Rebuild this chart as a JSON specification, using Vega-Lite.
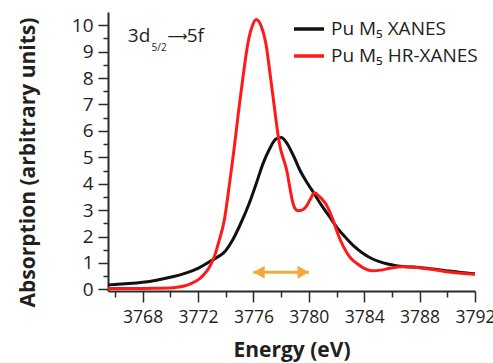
{
  "$schema": "https://vega.github.io/schema/vega-lite/v6.json",
  "autosize": {"type": "none"},
  "padding": {"left": 108, "top": 12, "right": 18, "bottom": 72},
  "width": 367,
  "height": 279,
  "background": "white",
  "config": {
    "view": {"stroke": null},
    "font": "Open Sans",
    "axis": {
      "grid": false,
      "labelOverlap": false,
      "labelFlush": false,
      "domainColor": "#2b2b2b",
      "domainWidth": 2,
      "tickColor": "#2b2b2b",
      "tickWidth": 1.5,
      "labelFont": "Open Sans",
      "labelFontSize": 19,
      "labelColor": "#231f20",
      "titleFont": "Open Sans",
      "titleFontSize": 21,
      "titleFontWeight": "bold",
      "titleColor": "#231f20"
    },
    "legend": {
      "labelFont": "Open Sans",
      "labelFontSize": 19,
      "labelColor": "#231f20"
    }
  },
  "layer": [
    {
      "data": {
        "values": [
          {"s": "Pu M₅ XANES", "e": 3765.5, "a": 0.17},
          {"s": "Pu M₅ XANES", "e": 3766, "a": 0.19},
          {"s": "Pu M₅ XANES", "e": 3767, "a": 0.22},
          {"s": "Pu M₅ XANES", "e": 3768, "a": 0.27},
          {"s": "Pu M₅ XANES", "e": 3769, "a": 0.35},
          {"s": "Pu M₅ XANES", "e": 3770, "a": 0.46},
          {"s": "Pu M₅ XANES", "e": 3771, "a": 0.6},
          {"s": "Pu M₅ XANES", "e": 3772, "a": 0.8},
          {"s": "Pu M₅ XANES", "e": 3773, "a": 1.1},
          {"s": "Pu M₅ XANES", "e": 3774, "a": 1.47},
          {"s": "Pu M₅ XANES", "e": 3774.5, "a": 1.87},
          {"s": "Pu M₅ XANES", "e": 3775, "a": 2.4},
          {"s": "Pu M₅ XANES", "e": 3775.7, "a": 3.26},
          {"s": "Pu M₅ XANES", "e": 3776.2, "a": 4.0},
          {"s": "Pu M₅ XANES", "e": 3776.7, "a": 4.77},
          {"s": "Pu M₅ XANES", "e": 3777.2, "a": 5.35},
          {"s": "Pu M₅ XANES", "e": 3777.6, "a": 5.68},
          {"s": "Pu M₅ XANES", "e": 3778, "a": 5.75},
          {"s": "Pu M₅ XANES", "e": 3778.4, "a": 5.55},
          {"s": "Pu M₅ XANES", "e": 3778.9, "a": 5.05},
          {"s": "Pu M₅ XANES", "e": 3779.35, "a": 4.52},
          {"s": "Pu M₅ XANES", "e": 3779.8, "a": 4.1},
          {"s": "Pu M₅ XANES", "e": 3780.3, "a": 3.7},
          {"s": "Pu M₅ XANES", "e": 3780.9, "a": 3.2},
          {"s": "Pu M₅ XANES", "e": 3781.5, "a": 2.75},
          {"s": "Pu M₅ XANES", "e": 3782.1, "a": 2.3},
          {"s": "Pu M₅ XANES", "e": 3782.7, "a": 1.94},
          {"s": "Pu M₅ XANES", "e": 3783.3, "a": 1.62},
          {"s": "Pu M₅ XANES", "e": 3783.9, "a": 1.37},
          {"s": "Pu M₅ XANES", "e": 3784.5, "a": 1.18},
          {"s": "Pu M₅ XANES", "e": 3785.1, "a": 1.05},
          {"s": "Pu M₅ XANES", "e": 3785.7, "a": 0.96},
          {"s": "Pu M₅ XANES", "e": 3786.3, "a": 0.9},
          {"s": "Pu M₅ XANES", "e": 3787, "a": 0.86},
          {"s": "Pu M₅ XANES", "e": 3788, "a": 0.83},
          {"s": "Pu M₅ XANES", "e": 3789, "a": 0.77},
          {"s": "Pu M₅ XANES", "e": 3789.9, "a": 0.71},
          {"s": "Pu M₅ XANES", "e": 3791, "a": 0.64},
          {"s": "Pu M₅ XANES", "e": 3792, "a": 0.59},
          {"s": "Pu M₅ HR-XANES", "e": 3765.5, "a": 0.03},
          {"s": "Pu M₅ HR-XANES", "e": 3767, "a": 0.03},
          {"s": "Pu M₅ HR-XANES", "e": 3769, "a": 0.04},
          {"s": "Pu M₅ HR-XANES", "e": 3770, "a": 0.05},
          {"s": "Pu M₅ HR-XANES", "e": 3770.5, "a": 0.08},
          {"s": "Pu M₅ HR-XANES", "e": 3771, "a": 0.13},
          {"s": "Pu M₅ HR-XANES", "e": 3771.5, "a": 0.22},
          {"s": "Pu M₅ HR-XANES", "e": 3772, "a": 0.36},
          {"s": "Pu M₅ HR-XANES", "e": 3772.4, "a": 0.55},
          {"s": "Pu M₅ HR-XANES", "e": 3772.8, "a": 0.82},
          {"s": "Pu M₅ HR-XANES", "e": 3773.2, "a": 1.27},
          {"s": "Pu M₅ HR-XANES", "e": 3773.5, "a": 1.8},
          {"s": "Pu M₅ HR-XANES", "e": 3773.9, "a": 2.63},
          {"s": "Pu M₅ HR-XANES", "e": 3774.3, "a": 4.1},
          {"s": "Pu M₅ HR-XANES", "e": 3774.6, "a": 5.3},
          {"s": "Pu M₅ HR-XANES", "e": 3774.94, "a": 6.79},
          {"s": "Pu M₅ HR-XANES", "e": 3775.25, "a": 8.05},
          {"s": "Pu M₅ HR-XANES", "e": 3775.6, "a": 9.31},
          {"s": "Pu M₅ HR-XANES", "e": 3775.9, "a": 9.94},
          {"s": "Pu M₅ HR-XANES", "e": 3776.2, "a": 10.22},
          {"s": "Pu M₅ HR-XANES", "e": 3776.58, "a": 9.94},
          {"s": "Pu M₅ HR-XANES", "e": 3776.9, "a": 9.31},
          {"s": "Pu M₅ HR-XANES", "e": 3777.23, "a": 8.05},
          {"s": "Pu M₅ HR-XANES", "e": 3777.54, "a": 6.79},
          {"s": "Pu M₅ HR-XANES", "e": 3777.85, "a": 5.6},
          {"s": "Pu M₅ HR-XANES", "e": 3778.4, "a": 4.52},
          {"s": "Pu M₅ HR-XANES", "e": 3778.9, "a": 3.19},
          {"s": "Pu M₅ HR-XANES", "e": 3779.2, "a": 2.98},
          {"s": "Pu M₅ HR-XANES", "e": 3779.5, "a": 3.0},
          {"s": "Pu M₅ HR-XANES", "e": 3779.8, "a": 3.13},
          {"s": "Pu M₅ HR-XANES", "e": 3780.1, "a": 3.4},
          {"s": "Pu M₅ HR-XANES", "e": 3780.4, "a": 3.66},
          {"s": "Pu M₅ HR-XANES", "e": 3780.8, "a": 3.5},
          {"s": "Pu M₅ HR-XANES", "e": 3781.2, "a": 3.26},
          {"s": "Pu M₅ HR-XANES", "e": 3781.75, "a": 2.63},
          {"s": "Pu M₅ HR-XANES", "e": 3782.1, "a": 2.1},
          {"s": "Pu M₅ HR-XANES", "e": 3782.5, "a": 1.62},
          {"s": "Pu M₅ HR-XANES", "e": 3783, "a": 1.2},
          {"s": "Pu M₅ HR-XANES", "e": 3783.45, "a": 0.99},
          {"s": "Pu M₅ HR-XANES", "e": 3784, "a": 0.8},
          {"s": "Pu M₅ HR-XANES", "e": 3784.6, "a": 0.71},
          {"s": "Pu M₅ HR-XANES", "e": 3785.2, "a": 0.73},
          {"s": "Pu M₅ HR-XANES", "e": 3785.85, "a": 0.8},
          {"s": "Pu M₅ HR-XANES", "e": 3786.8, "a": 0.86},
          {"s": "Pu M₅ HR-XANES", "e": 3787.5, "a": 0.85},
          {"s": "Pu M₅ HR-XANES", "e": 3788, "a": 0.82},
          {"s": "Pu M₅ HR-XANES", "e": 3789, "a": 0.75},
          {"s": "Pu M₅ HR-XANES", "e": 3789.95, "a": 0.67},
          {"s": "Pu M₅ HR-XANES", "e": 3791, "a": 0.61},
          {"s": "Pu M₅ HR-XANES", "e": 3792, "a": 0.57}
        ]
      },
      "mark": {"type": "line", "strokeWidth": 3, "interpolate": "monotone", "clip": true},
      "encoding": {
        "x": {
          "field": "e",
          "type": "quantitative",
          "scale": {"domain": [3765.5, 3792], "nice": false, "zero": false},
          "axis": {
            "orient": "bottom",
            "values": [3768, 3772, 3776, 3780, 3784, 3788, 3792],
            "format": "d",
            "tickSize": 11,
            "labelPadding": 6,
            "labelFontSize": 17.5,
            "labelDx": -6,
            "title": "Energy (eV)",
            "titlePadding": 14
          }
        },
        "y": {
          "field": "a",
          "type": "quantitative",
          "scale": {"domain": [-0.06, 10.5], "nice": false, "zero": false},
          "axis": {
            "orient": "left",
            "values": [0, 1, 2, 3, 4, 5, 6, 7, 8, 9, 10],
            "tickSize": 10,
            "labelPadding": 5,
            "title": "Absorption (arbitrary units)",
            "titlePadding": 33,
            "titleY": 150
          }
        },
        "color": {
          "field": "s",
          "type": "nominal",
          "sort": null,
          "scale": {
            "domain": ["Pu M₅ XANES", "Pu M₅ HR-XANES"],
            "range": ["#111111", "#ff1a1a"]
          },
          "legend": {
            "title": null,
            "orient": "none",
            "legendX": 184,
            "legendY": 0,
            "padding": 0,
            "symbolType": "stroke",
            "symbolSize": 900,
            "symbolStrokeWidth": 3.5,
            "labelOffset": 5,
            "rowPadding": -1
          }
        }
      }
    },
    {
      "data": {"values": [{"e": 3776, "e2": 3780, "a": 0.65}]},
      "mark": {"type": "rule", "color": "#f5a93b", "strokeWidth": 3},
      "encoding": {
        "x": {
          "field": "e",
          "type": "quantitative",
          "axis": {
            "orient": "bottom",
            "values": [3766, 3770, 3774, 3778, 3782, 3786, 3790],
            "tickSize": 6,
            "labels": false,
            "domain": false,
            "title": null
          }
        },
        "x2": {"field": "e2"},
        "y": {
          "field": "a",
          "type": "quantitative",
          "axis": {
            "orient": "left",
            "values": [0.5, 1.5, 2.5, 3.5, 4.5, 5.5, 6.5, 7.5, 8.5, 9.5],
            "tickSize": 5,
            "labels": false,
            "domain": false,
            "title": null
          }
        }
      }
    },
    {
      "data": {"values": [{"e": 3776, "a": 0.65}]},
      "mark": {"type": "point", "shape": "triangle-left", "size": 170, "filled": true, "opacity": 1, "color": "#f5a93b", "xOffset": 5.6},
      "encoding": {
        "x": {"field": "e", "type": "quantitative", "axis": null},
        "y": {"field": "a", "type": "quantitative", "axis": null}
      }
    },
    {
      "data": {"values": [{"e": 3780, "a": 0.65}]},
      "mark": {"type": "point", "shape": "triangle-right", "size": 170, "filled": true, "opacity": 1, "color": "#f5a93b", "xOffset": -5.6},
      "encoding": {
        "x": {"field": "e", "type": "quantitative", "axis": null},
        "y": {"field": "a", "type": "quantitative", "axis": null}
      }
    },
    {
      "data": {"values": [
        {"e": 3766.93, "a": 9.376, "t": "3d"},
        {"e": 3771.18, "a": 9.376, "t": "5f"}
      ]},
      "mark": {"type": "text", "align": "left", "baseline": "alphabetic", "fontSize": 19, "font": "Open Sans", "color": "#231f20"},
      "encoding": {
        "x": {"field": "e", "type": "quantitative", "axis": null},
        "y": {"field": "a", "type": "quantitative", "axis": null},
        "text": {"field": "t"}
      }
    },
    {
      "data": {"values": [{"e": 3769.78, "a": 9.376, "t": "⟶"}]},
      "mark": {"type": "text", "align": "left", "baseline": "alphabetic", "fontSize": 14, "dy": -1, "font": "DejaVu Sans", "color": "#231f20"},
      "encoding": {
        "x": {"field": "e", "type": "quantitative", "axis": null},
        "y": {"field": "a", "type": "quantitative", "axis": null},
        "text": {"field": "t"}
      }
    },
    {
      "data": {"values": [{"e": 3768.65, "a": 9.035, "t": "5/2"}]},
      "mark": {"type": "text", "align": "left", "baseline": "alphabetic", "fontSize": 10, "font": "Open Sans", "color": "#231f20"},
      "encoding": {
        "x": {"field": "e", "type": "quantitative", "axis": null},
        "y": {"field": "a", "type": "quantitative", "axis": null},
        "text": {"field": "t"}
      }
    }
  ],
  "resolve": {"axis": {"x": "independent", "y": "independent"}}
}
